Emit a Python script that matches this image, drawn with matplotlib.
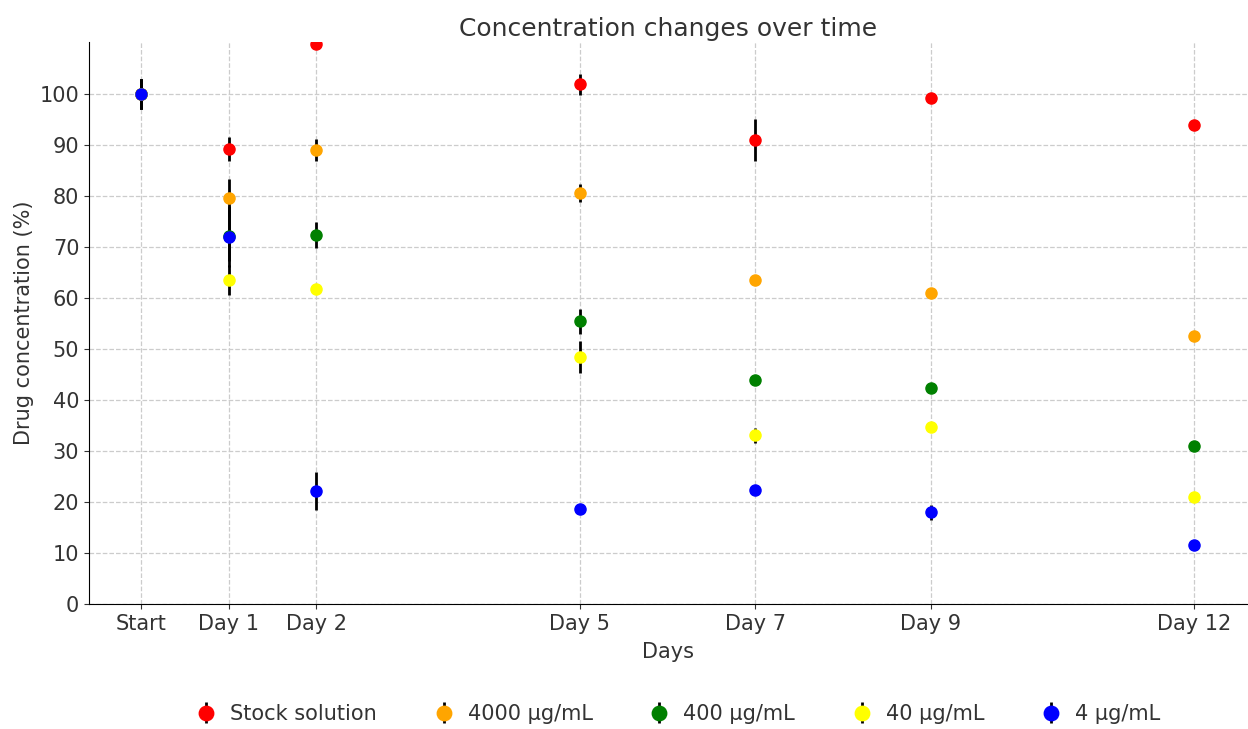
import matplotlib
matplotlib.use("Agg")
import matplotlib.pyplot as plt

days = [0, 1, 2, 5, 7, 9, 12]
day_labels = ["Start", "Day 1", "Day 2", "Day 5", "Day 7", "Day 9", "Day 12"]

series_names = ["Stock solution", "4000 µg/mL", "400 µg/mL", "40 µg/mL", "4 µg/mL"]
series_colors = ["red", "orange", "green", "yellow", "blue"]

stock_vals = [100, 89.2, 109.8, 101.9, 91.0, 99.3, 93.9]
stock_err = [3, 2.4, 0, 2.0, 4.1, 0, 0]
c4000_vals = [100, 79.6, 89.0, 80.6, 63.5, 61.0, 52.6]
c4000_err = [3, 3.7, 2.2, 1.7, 0, 1.0, 0]
c400_vals = [100, 72.2, 72.4, 55.4, 43.9, 42.4, 31.0]
c400_err = [3, 5.0, 2.5, 2.4, 0, 0.8, 0]
c40_vals = [100, 63.5, 61.8, 48.4, 33.1, 34.7, 21.0]
c40_err = [3, 2.9, 0, 3.1, 1.5, 0, 0]
c4_vals = [100, 72.0, 22.2, 18.6, 22.4, 18.0, 11.6]
c4_err = [3, 6.0, 3.7, 0, 0, 1.5, 0]

all_vals = [stock_vals, c4000_vals, c400_vals, c40_vals, c4_vals]
all_errs = [stock_err, c4000_err, c400_err, c40_err, c4_err]

plt.rcParams["font.family"] = "DejaVu Sans"
text_col = "#333333"

fig = plt.figure(figsize=(12.48, 7.29), dpi=100)
ax = fig.add_axes([89 / 1248, 125 / 729, 1158 / 1248, 562 / 729])

for name, col, vals, errs in zip(series_names, series_colors, all_vals, all_errs):
    ax.errorbar(days, vals, yerr=errs, fmt="o", color=col, ecolor="black",
                elinewidth=2, capsize=0, markersize=8, label=name)

ax.set_ylim(0, 110.2)
ax.set_xlim(-0.59, 12.6)
ax.set_yticks(range(0, 101, 10))
ax.set_xticks(days)
ax.set_xticklabels(day_labels)
ax.tick_params(labelsize=15, labelcolor=text_col, colors=text_col)
ax.grid(True, linestyle="--", color="#cccccc", linewidth=0.9)
ax.set_axisbelow(True)
for s in ["top", "right"]:
    ax.spines[s].set_visible(False)
ax.spines["left"].set_color("black")
ax.spines["bottom"].set_color("black")

ax.set_title("Concentration changes over time", fontsize=18, color=text_col, pad=4)
ax.set_xlabel("Days", fontsize=15, color=text_col, labelpad=6)
ax.set_ylabel("Drug concentration (%)", fontsize=15, color=text_col)

leg = ax.legend(loc="center", bbox_to_anchor=(0.504, -0.196), ncol=5, frameon=False,
                fontsize=15, handletextpad=0.15, columnspacing=2.2, markerscale=1.3)
for t in leg.get_texts():
    t.set_color(text_col)

fig.savefig("out.png", dpi=100)
